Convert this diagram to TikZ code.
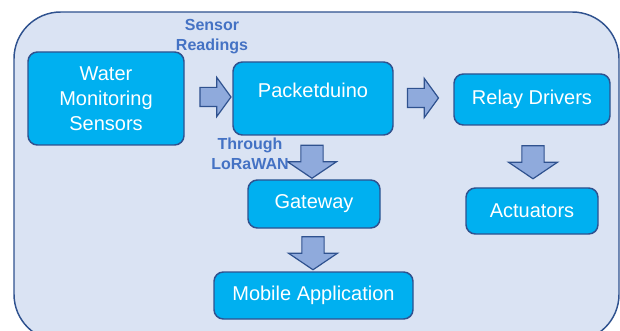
\documentclass[tikz,border=0pt]{standalone}
\usepackage{fontspec}
\setmainfont{Liberation Sans}
\usetikzlibrary{shapes,shapes.arrows,positioning}
\usepackage{xcolor}
\definecolor{panelfill}{RGB}{218,227,243}
\definecolor{edgeblue}{RGB}{47,82,143}
\definecolor{boxfill}{RGB}{0,176,240}
\definecolor{arrowfill}{RGB}{143,170,220}
\definecolor{lblblue}{RGB}{68,114,196}

\begin{document}
\begin{tikzpicture}[
    x=0.75pt, y=-0.75pt,
    panel/.style ={
        draw=edgeblue,
        fill=panelfill,
        line width=1.1pt,
        rounded corners=35pt
    },
    box/.style ={
        rectangle,
        rounded corners=7pt,
        draw=edgeblue,
        fill=boxfill,
        line width=1.1pt,
        text=white,
        align=center,
        inner sep=0pt,
        font=\fontsize{15pt}{18.75pt}\selectfont
    },
    lbl/.style ={
        text=lblblue,
        align=center,
        inner sep=0pt,
        font=\bfseries\fontsize{12pt}{15pt}\selectfont
    },
    harr/.style ={
        single arrow,
        draw=edgeblue,
        fill=arrowfill,
        line width=0.9pt,
        inner xsep=0pt,
        inner ysep=6.75pt,
        minimum height=23.25pt,
        single arrow head extend=7.5pt,
        single arrow tip angle=108
    },
    varr/.style ={
        harr,
        inner ysep=7.9pt,
        minimum height=24.75pt,
        single arrow head extend=10pt,
        single arrow tip angle=112,
        rotate=-90
    }
    ]
    \useasboundingbox (0,0) rectangle (620,331);
    \draw[panel] (14,12) rectangle (619,341);

    \foreach \x/ \pos/ \w/ \h/ \txt in {{sensors/(106,98.5)/117pt/69.75pt/{Water\\Monitoring\\Sensors}},
                                    {relay/(532,99.5)/117pt/38.25pt/{Relay Drivers}},
                                    {gateway/(314,204)/99pt/36pt/{Gateway}},
                                    {mobile/(313.5,295.5)/149.25pt/35.25pt/{Mobile Application}},
                                    {actuators/(532,211)/99pt/34.5pt/{Actuators}}}
        \node[box, minimum width=\w, minimum height=\h] (\x) at \pos {\txt};
    \node[box, minimum width=120pt, minimum height=54.75pt, text depth=12pt] (packet) at (313,98.5) {Packetduino};

    \foreach \x/ \pos/ \sty in {{a1/(212,97)/harr}, {a2/(419.5,98)/harr}, {a3/(312,158)/varr},
                                {a4/(313,249.5)/varr}, {a5/(533,158.5)/varr}}
        \node[\sty] (\x) at \pos {};

    \node[lbl] (readings) at (212,36.5) {Sensor\\Readings};
    \node[lbl] (lorawan) at (250,153.4) {Through\\LoRaWAN};
\end{tikzpicture}
\end{document}
